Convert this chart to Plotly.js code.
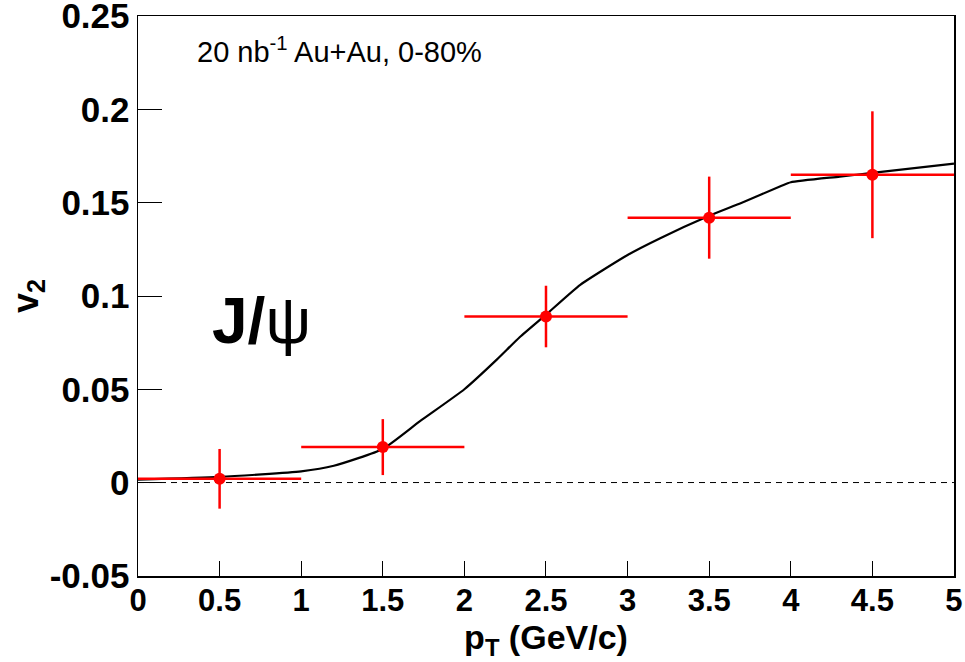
<!DOCTYPE html>
<html>
<head>
<meta charset="utf-8">
<script src="https://cdn.plot.ly/plotly-3.0.1.min.js"></script>
<style>html,body{margin:0;padding:0;background:#fff;}#chart{width:965px;height:662px;}</style>
</head>
<body>
<div id="chart"></div>
<script>
// measured J/psi v2 points
const ptBins = [0.5, 1.5, 2.5, 3.5, 4.5];
const ptHalfWidth = [0.5, 0.5, 0.5, 0.5, 0.5];
const v2Values = [0.002, 0.019, 0.089, 0.142, 0.165];
const v2Errors = [0.016, 0.015, 0.0165, 0.022, 0.034];

// model curve
const curvePt = [0, 0.5, 1.0, 1.2, 1.5, 1.73, 2.0, 2.2, 2.34, 2.5, 2.71, 3.0, 3.2, 3.5, 3.7, 3.94, 4.0, 4.3, 4.5, 5.0];
const curveV2 = [0.0015, 0.003, 0.006, 0.009, 0.018, 0.033, 0.050, 0.066, 0.078, 0.090, 0.106, 0.122, 0.131, 0.143, 0.150, 0.159, 0.161, 0.164, 0.166, 0.171];

// reference zero line
const zeroX = [0, 5];
const zeroY = [0, 0];

const xTicks = [0, 0.5, 1, 1.5, 2, 2.5, 3, 3.5, 4, 4.5, 5];
const xTickText = ['0', '0.5', '1', '1.5', '2', '2.5', '3', '3.5', '4', '4.5', '5'];
const yTicks = [-0.05, 0, 0.05, 0.1, 0.15, 0.2, 0.25];
const yTickText = ['-0.05', '0', '0.05', '0.1', '0.15', '0.2', '0.25'];

const FONT = 'Liberation Sans, Arial, sans-serif';

const traces = [
  {
    x: zeroX, y: zeroY, mode: 'lines', type: 'scatter',
    line: {color: 'black', width: 1, dash: '6px,5px'},
    hoverinfo: 'skip', showlegend: false
  },
  {
    x: curvePt, y: curveV2, mode: 'lines', type: 'scatter',
    line: {color: 'black', width: 2.2, shape: 'spline', smoothing: 0.5},
    showlegend: false
  },
  {
    x: ptBins, y: v2Values, mode: 'markers', type: 'scatter',
    marker: {color: '#ff0000', size: 12, symbol: 'circle'},
    error_x: {type: 'data', array: ptHalfWidth, symmetric: true, color: '#ff0000', thickness: 2.5, width: 0},
    error_y: {type: 'data', array: v2Errors, symmetric: true, color: '#ff0000', thickness: 2.5, width: 0},
    showlegend: false
  }
];

const layout = {
  width: 965, height: 662,
  margin: {l: 138, r: 11, t: 16, b: 86},
  paper_bgcolor: 'white', plot_bgcolor: 'white',
  showlegend: false,
  xaxis: {
    range: [0, 5.0001], tickmode: 'array', tickvals: xTicks, ticktext: xTickText,
    ticks: 'inside', ticklen: 15, tickwidth: 1, tickcolor: 'black',
    showline: true, linecolor: 'black', linewidth: 1.5, mirror: true,
    showgrid: false, zeroline: false,
    ticklabelstandoff: -4, ticklabeloverflow: 'allow',
    tickfont: {family: FONT, size: 31, color: 'black', weight: 'bold'},
    title: {text: 'p<sub>T</sub> (GeV/c)', font: {family: FONT, size: 34, color: 'black', weight: 'bold'}, standoff: 2}
  },
  yaxis: {
    range: [-0.0501, 0.2501], tickmode: 'array', tickvals: yTicks, ticktext: yTickText,
    ticks: 'inside', ticklen: 24, tickwidth: 1, tickcolor: 'black',
    showline: true, linecolor: 'black', linewidth: 1.5, mirror: true,
    showgrid: false, zeroline: false,
    ticklabeloverflow: 'allow',
    tickfont: {family: FONT, size: 35, color: 'black', weight: 'bold'},
    title: {text: 'v<sub>2</sub>', font: {family: FONT, size: 36, color: 'black', weight: 'bold'}, standoff: 0}
  },
  annotations: [
    {
      xref: 'paper', yref: 'paper', x: 0.07, y: 0.94, xanchor: 'left', yanchor: 'middle',
      text: '20 nb<sup>-1</sup> Au+Au, 0-80%', showarrow: false,
      font: {family: FONT, size: 29, color: 'black'}
    },
    {
      xref: 'paper', yref: 'paper', x: 0.088, y: 0.455, xanchor: 'left', yanchor: 'middle',
      text: '<b>J/</b>ψ', showarrow: false,
      font: {family: FONT, size: 64, color: 'black'}
    }
  ]
};

Plotly.newPlot('chart', traces, layout, {staticPlot: true, displayModeBar: false});
</script>
</body>
</html>
